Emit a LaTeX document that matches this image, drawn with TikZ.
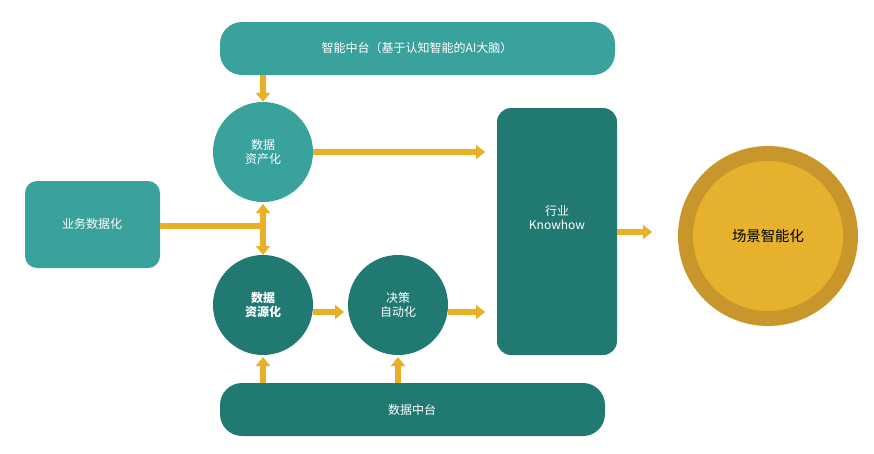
\documentclass[tikz,border=0pt]{standalone}
\usepackage{fontspec}
\setmainfont{Noto Sans CJK SC}
\usetikzlibrary{arrows.meta}
\definecolor{tealA}{HTML}{3AA29D}
\definecolor{tealB}{HTML}{207A72}
\definecolor{goldA}{HTML}{E6B12C}
\definecolor{goldB}{HTML}{C8962A}
\definecolor{arrowc}{HTML}{E8B024}
\tikzset{
  bubble/.style={circle, minimum size=100pt, inner sep=0pt, text=white, align=center, font=\large},
  flow/.style={draw=arrowc, line width=6pt, -{Triangle[length=9pt,width=14pt]}},
}
\begin{document}
\begin{tikzpicture}[x=1pt,y=-1pt]
  \useasboundingbox (0,0) rectangle (874,453);
  % bars and boxes
  \fill[tealA, rounded corners=22pt] (220,22) rectangle (615,75);
  \node[text=white, font=\large] (top) at (417,48) {智能中台（基于认知智能的AI大脑）};
  \fill[tealB, rounded corners=22pt] (220,383) rectangle (605,436);
  \node[text=white, font=\large] (bottom) at (412,410) {数据中台};
  \fill[tealA, rounded corners=12pt] (25,181) rectangle (160,268);
  \node[text=white, font=\large] (biz) at (92,224) {业务数据化};
  \fill[tealB, rounded corners=14pt] (497,108) rectangle (617,355);
  \node[text=white, font=\large, align=center] (know) at (557,218) {行业\\Knowhow};
  % circles
  \node[bubble, fill=tealA] (asset) at (263,152) {数据\\资产化};
  \node[bubble, fill=tealB, font=\large\bfseries] (source) at (263,305) {数据\\资源化};
  \node[bubble, fill=tealB] (auto) at (398,305) {决策\\自动化};
  \fill[goldB] (768,236) circle (90pt);
  \node[circle, fill=goldA, minimum size=150pt, font=\Large] (scene) at (768,236) {场景智能化};
  % arrows
  \coordinate (j) at (263,226);
  \draw[flow] (263,75) -- (asset.north);
  \draw[flow] (asset.east) -- (485,152);
  \draw[draw=arrowc, line width=6pt] (160,226) -- (j);
  \draw[flow, {Triangle[length=9pt,width=14pt]}-{Triangle[length=9pt,width=14pt]}] (263,204) -- (263,255);
  \draw[flow] (313,312) -- (344,312);
  \draw[flow] (448,312) -- (485,312);
  \draw[flow] (617,232) -- (652,232);
  \draw[flow] (263,383) -- (263,357);
  \draw[flow] (398,383) -- (398,357);
\end{tikzpicture}
\end{document}
